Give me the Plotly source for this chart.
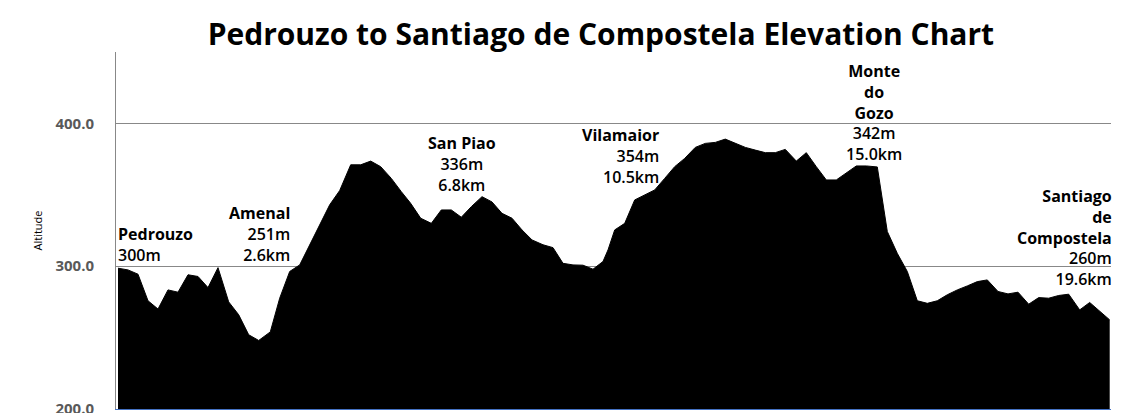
import plotly.graph_objects as go

# elevation profile, one sample per point along the route (m)
altitude = [
    298.6, 297.4, 294.4, 275.8, 270.0, 283.4, 281.8, 294.0, 292.8, 285.0,
    299.0, 275.0, 266.0, 252.0, 248.0, 254.0, 277.6, 296.3, 300.9, 315.0,
    329.0, 343.0, 353.0, 371.0, 371.0, 373.6, 369.7, 361.5, 352.2, 344.0,
    333.6, 330.0, 339.4, 339.4, 334.3, 341.7, 348.7, 345.0, 337.0, 333.6,
    325.4, 318.4, 315.0, 313.0, 302.0, 300.9, 300.7, 297.9, 303.3, 311.4,
    325.4, 330.0, 346.4, 350.0, 353.4, 361.5, 369.7, 375.5, 383.2, 386.0,
    386.7, 389.0, 386.0, 383.2, 381.3, 379.5, 379.5, 381.8, 373.6, 379.5,
    369.7, 360.4, 360.4, 365.0, 370.2, 370.2, 369.5, 324.3, 309.0, 296.3,
    275.8, 274.0, 275.8, 280.0, 283.4, 286.2, 289.2, 290.4, 282.3, 280.6,
    281.8, 273.4, 278.0, 277.6, 279.5, 280.4, 269.4, 274.6, 268.3, 262.4,
]
# pixel x of each sample in the reference, used as the distance axis
pos = [
    110, 120, 130, 140, 150, 160, 170, 180, 190, 200,
    210, 220.7, 230.7, 240.7, 250.7, 262.3, 271.7, 281.7, 291.7, 301.7,
    311.7, 321.7, 331.7, 342.7, 352.7, 362.7, 372.7, 383.3, 393.3, 402.7,
    412.7, 423.3, 433.3, 443.3, 453.3, 463.3, 474, 484, 494, 504,
    514, 524, 535, 545, 555, 565, 575, 585, 595, 600,
    606.7, 616.7, 626.7, 636.7, 646.7, 656.7, 666.7, 676.7, 687.3, 697.3,
    707.3, 717.3, 727.3, 737.3, 747.3, 757.3, 767.3, 777.3, 788.3, 798.3,
    808.3, 818.3, 828.3, 838.3, 848.3, 858.3, 869.3, 879.3, 889.3, 899.3,
    909.3, 919.3, 929.3, 939.3, 949.3, 959.3, 969.3, 979.3, 990, 1000,
    1010, 1020.7, 1030.7, 1040.7, 1050.7, 1060.7, 1071.7, 1081.7, 1091.7, 1101.7,
]

places = ["Pedrouzo", "Amenal", "San Piao", "Vilamaior", "Monte<br>do<br>Gozo", "Santiago<br>de<br>Compostela"]
place_alt = ["300m", "251m", "336m", "354m", "342m", "260m"]
place_km = ["", "2.6km", "6.8km", "10.5km", "15.0km", "19.6km"]

fig = go.Figure(go.Scatter(x=pos, y=altitude, mode="lines", fill="tozeroy",
                           fillcolor="black", line=dict(color="black", width=1),
                           hoverinfo="y"))

# label layout: (x pixel, bottom y pixel, anchor)
lab = [(108, 260, "left"), (284, 260, "right"), (454, 190, "center"),
       (653, 182, "right"), (866, 159, "center"), (1106, 284, "right")]
W, T, B = 1125, 44, 401
for (px, py, anc), name, a, km in zip(lab, places, place_alt, place_km):
    lines = "<b>" + name + "</b><br>" + a + ("<br>" + km if km else "")
    fig.add_annotation(x=(px - 108) / 995, y=(B - py) / (B - T), xref="paper", yref="paper",
                       text=lines, showarrow=False, xanchor=anc, yanchor="bottom", align=anc,
                       font=dict(family="Open Sans", size=16, color="black", weight=600))

fig.update_layout(
    width=W, height=413, margin=dict(l=108, r=22, t=T, b=413 - B),
    plot_bgcolor="white", paper_bgcolor="white", showlegend=False,
    font=dict(family="Open Sans"),
    title=dict(text="<b>Pedrouzo to Santiago de Compostela Elevation Chart</b>",
               x=0.527, xanchor="center", yref="container", y=0.935, yanchor="middle",
               font=dict(size=30, color="black", family="Open Sans")),
)
fig.update_xaxes(range=[108, 1103], showticklabels=False, showgrid=False, zeroline=False,
                 showline=True, linecolor="#4472c4", linewidth=1, automargin=False)
fig.update_yaxes(range=[200, 450], tickvals=[200, 300, 400], tickformat=".1f", automargin=False,
                 gridcolor="#888", gridwidth=1, zeroline=False, showline=True, linecolor="#888",
                 tickfont=dict(size=15, color="#595959", weight="bold"), ticklabelstandoff=18,
                 title=dict(text="Altitude", font=dict(size=11, color="black"), standoff=10))
fig.write_html("out.html")
